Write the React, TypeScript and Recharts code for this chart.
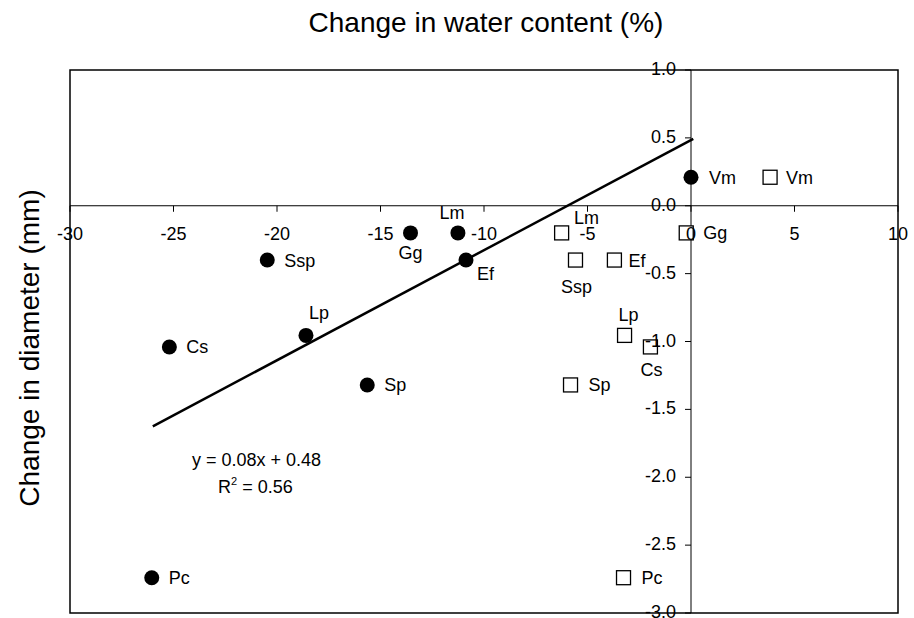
import React from 'react';
import { ScatterChart, Scatter, XAxis, YAxis, ReferenceLine, ReferenceArea } from 'recharts';

// ---- data ----
const species = ['Vm', 'Gg', 'Lm', 'Ssp', 'Ef', 'Lp', 'Cs', 'Sp', 'Pc'];
const circleX = [0.0, -13.55, -11.26, -20.47, -10.87, -18.6, -25.2, -15.64, -26.05];
const circleY = [0.21, -0.2, -0.2, -0.4, -0.4, -0.955, -1.04, -1.32, -2.74];
const squareX = [3.82, -0.23, -6.25, -5.58, -3.7, -3.21, -1.96, -5.82, -3.26];
const squareY = [0.21, -0.2, -0.2, -0.4, -0.4, -0.955, -1.04, -1.32, -2.74];
const xTicks = [-30, -25, -20, -15, -10, -5, 0, 5, 10];
const xTickLabels = ['-30', '-25', '-20', '-15', '-10', '-5', '0', '5', '10'];
const yTicks = [1, 0.5, 0, -0.5, -1, -1.5, -2, -2.5, -3];
const yTickLabels = ['1.0', '0.5', '0.0', '-0.5', '-1.0', '-1.5', '-2.0', '-2.5', '-3.0'];
const trendX = [-26.0, 0.11];
const trendY = [-1.625, 0.493];
const xTitle = 'Change in water content (%)';
const yTitle = 'Change in diameter (mm)';
const equation = 'y = 0.08x + 0.48';
const r2Value = '0.56';

// ---- label placement (dx, dy of label centre, anchor) ----
type Place = [number, number, 'start' | 'middle' | 'end'];
const circleLabelPlace: Record<string, Place> = {
  Vm: [18, 0, 'start'],
  Gg: [0, 20, 'middle'],
  Lm: [-6, -20, 'middle'],
  Ssp: [17, 0, 'start'],
  Ef: [11, 13, 'start'],
  Lp: [13, -23, 'middle'],
  Cs: [17, 0, 'start'],
  Sp: [17, 0, 'start'],
  Pc: [17, 0, 'start'],
};
const squareLabelPlace: Record<string, Place> = {
  Vm: [16, 0, 'start'],
  Gg: [17, 0, 'start'],
  Lm: [25, -15, 'middle'],
  Ssp: [1, 26, 'middle'],
  Ef: [14, 0, 'start'],
  Lp: [4, -21, 'middle'],
  Cs: [1, 23, 'middle'],
  Sp: [18, 0, 'start'],
  Pc: [18, 0, 'start'],
};

const circleData = species.map((name, i) => ({ name, x: circleX[i], y: circleY[i] }));
const squareData = species.map((name, i) => ({ name, x: squareX[i], y: squareY[i] }));
const xTickData = xTicks.map((v, i) => ({ x: v, y: 0, label: xTickLabels[i] }));
const yTickData = yTicks.map((v, i) => ({ x: 0, y: v, label: yTickLabels[i] }));
const trendData = trendX.map((x, i) => ({ x, y: trendY[i] }));

const FONT = '"Liberation Sans", Arial, sans-serif';
const W = 906;
const H = 610;

const CircleShape = (p: any) => {
  const { cx, cy, payload } = p;
  const [dx, dy, anchor] = circleLabelPlace[payload.name];
  return (
    <g>
      <circle cx={cx} cy={cy} r={7.5} fill="#000" />
      <text x={cx + dx} y={cy + dy + 6.5} textAnchor={anchor} fontSize={18} fontFamily={FONT} fill="#000">
        {payload.name}
      </text>
    </g>
  );
};

const SquareShape = (p: any) => {
  const { cx, cy, payload } = p;
  const [dx, dy, anchor] = squareLabelPlace[payload.name];
  return (
    <g>
      <rect x={cx - 7} y={cy - 7} width={14} height={14} fill="#fff" stroke="#000" strokeWidth={1.3} />
      <text x={cx + dx} y={cy + dy + 6.5} textAnchor={anchor} fontSize={18} fontFamily={FONT} fill="#000">
        {payload.name}
      </text>
    </g>
  );
};

const XTickShape = (p: any) => {
  const { cx, cy, payload } = p;
  return (
    <g>
      <line x1={cx} y1={cy} x2={cx} y2={cy + 6} stroke="#000" strokeWidth={1} />
      <text x={cx} y={cy + 34} textAnchor="middle" fontSize={18} fontFamily={FONT} fill="#000">
        {payload.label}
      </text>
    </g>
  );
};

const YTickShape = (p: any) => {
  const { cx, cy, payload } = p;
  return (
    <g>
      <line x1={cx - 6} y1={cy} x2={cx} y2={cy} stroke="#000" strokeWidth={1} />
      <text x={cx - 15} y={cy + 5} textAnchor="end" fontSize={18} fontFamily={FONT} fill="#000">
        {payload.label}
      </text>
    </g>
  );
};

const NoShape = () => <g />;

export default function App() {
  return (
    <div style={{ position: 'absolute', left: 8, top: 8, width: W, height: H }}>
      <ScatterChart width={W} height={H} margin={{ top: 62, left: 62, right: 16, bottom: 5 }}>
        <XAxis type="number" dataKey="x" domain={[-30, 10]} hide />
        <YAxis type="number" dataKey="y" domain={[-3, 1]} hide />
        <ReferenceArea x1={-30} x2={10} y1={-3} y2={1} fill="none" fillOpacity={0} stroke="#000" strokeWidth={1.5} ifOverflow="visible" />
        <ReferenceLine y={0} stroke="#000" strokeWidth={1} />
        <ReferenceLine x={0} stroke="#000" strokeWidth={1} />
        <Scatter data={trendData} shape={NoShape} line={{ stroke: '#000', strokeWidth: 2.5 }} fill="#000" isAnimationActive={false} />
        <Scatter data={circleData} shape={CircleShape} isAnimationActive={false} />
        <Scatter data={squareData} shape={SquareShape} isAnimationActive={false} />
        <Scatter data={xTickData} shape={XTickShape} isAnimationActive={false} />
        <Scatter data={yTickData} shape={YTickShape} isAnimationActive={false} />
      </ScatterChart>
      <svg width={W} height={H} style={{ position: 'absolute', left: 0, top: 0, pointerEvents: 'none' }}>
        <text x={478} y={24} textAnchor="middle" fontSize={28} fontFamily={FONT} fill="#000">
          {xTitle}
        </text>
        <text transform="translate(31,340) rotate(-90)" textAnchor="middle" fontSize={28} fontFamily={FONT} fill="#000">
          {yTitle}
        </text>
        <text x={184} y={458} fontSize={18} fontFamily={FONT} fill="#000">
          {equation}
        </text>
        <text x={210} y={485} fontSize={18} fontFamily={FONT} fill="#000">
          R<tspan fontSize={11} dy={-8}>2</tspan>
          <tspan dy={8}>{' = ' + r2Value}</tspan>
        </text>
      </svg>
    </div>
  );
}
